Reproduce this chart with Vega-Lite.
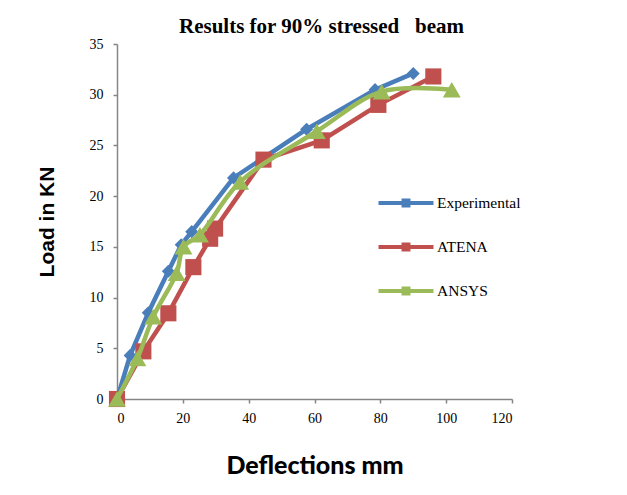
{
  "$schema": "https://vega.github.io/schema/vega-lite/v6.json",
  "width": 395,
  "height": 355,
  "autosize": {"type": "none"},
  "padding": {"left": 117, "top": 44, "right": 115, "bottom": 96},
  "background": "white",
  "config": {"view": {"stroke": null}},
  "title": {
    "text": "Results for 90% stressed\u00a0\u00a0 beam",
    "font": "Liberation Serif",
    "fontSize": 21,
    "fontWeight": "bold",
    "color": "black",
    "anchor": "middle",
    "baseline": "bottom",
    "offset": 7,
    "dx": 7,
    "dy": 28
  },
  "data": {
    "values": [
      {"series": "Experimental", "x": 0, "y": 0},
      {"series": "Experimental", "x": 4, "y": 4.3},
      {"series": "Experimental", "x": 9.5, "y": 8.5},
      {"series": "Experimental", "x": 15.6, "y": 12.6},
      {"series": "Experimental", "x": 19.5, "y": 15.2},
      {"series": "Experimental", "x": 22.7, "y": 16.5},
      {"series": "Experimental", "x": 35.4, "y": 21.8},
      {"series": "Experimental", "x": 57.6, "y": 26.6},
      {"series": "Experimental", "x": 78.4, "y": 30.5},
      {"series": "Experimental", "x": 90, "y": 32.1},
      {"series": "ATENA", "x": 0, "y": 0},
      {"series": "ATENA", "x": 8, "y": 4.7},
      {"series": "ATENA", "x": 15.6, "y": 8.45},
      {"series": "ATENA", "x": 23.2, "y": 13},
      {"series": "ATENA", "x": 28.3, "y": 15.8},
      {"series": "ATENA", "x": 29.8, "y": 16.8},
      {"series": "ATENA", "x": 44.5, "y": 23.6},
      {"series": "ATENA", "x": 62.2, "y": 25.5},
      {"series": "ATENA", "x": 79.4, "y": 29},
      {"series": "ATENA", "x": 96.1, "y": 31.8},
      {"series": "ANSYS", "x": 0, "y": 0},
      {"series": "ANSYS", "x": 6.2, "y": 4.0},
      {"series": "ANSYS", "x": 11, "y": 8.1},
      {"series": "ANSYS", "x": 18.1, "y": 12.4},
      {"series": "ANSYS", "x": 20.2, "y": 15},
      {"series": "ANSYS", "x": 25.2, "y": 16.2},
      {"series": "ANSYS", "x": 37.4, "y": 21.4},
      {"series": "ANSYS", "x": 60.7, "y": 26.4},
      {"series": "ANSYS", "x": 80.4, "y": 30.3},
      {"series": "ANSYS", "x": 101.7, "y": 30.5}
    ]
  },
  "encoding": {
    "x": {
      "field": "x", "type": "quantitative",
      "scale": {"domain": [0, 120], "nice": false, "zero": false},
      "axis": {
        "values": [0, 20, 40, 60, 80, 100, 120],
        "grid": false,
        "domainColor": "#868686", "domainWidth": 1.5,
        "tickColor": "#868686", "tickWidth": 1.5, "tickSize": 4,
        "labelFont": "Liberation Serif", "labelFontSize": 14, "labelColor": "black",
        "labelPadding": 8,
        "title": "Deflections mm",
        "titleFont": "Lato", "titleFontSize": 25, "titleFontWeight": 900, "titleColor": "black",
        "titlePadding": 28
      }
    },
    "y": {
      "field": "y", "type": "quantitative",
      "scale": {"domain": [0, 35], "nice": false, "zero": false},
      "axis": {
        "values": [0, 5, 10, 15, 20, 25, 30, 35],
        "grid": false,
        "domainColor": "#868686", "domainWidth": 1.5,
        "tickColor": "#868686", "tickWidth": 1.5, "tickSize": 4,
        "labelFont": "Liberation Serif", "labelFontSize": 14, "labelColor": "black",
        "labelPadding": 10,
        "title": "Load in KN",
        "titleFont": "Liberation Sans", "titleFontSize": 21, "titleFontWeight": "bold", "titleColor": "black",
        "titlePadding": 32
      }
    }
  },
  "layer": [
    {
      "transform": [{"filter": "datum.series === 'Experimental'"}],
      "mark": {"type": "line", "strokeWidth": 4.5},
      "encoding": {
        "color": {
          "field": "series", "type": "nominal",
          "scale": {"domain": ["Experimental", "ATENA", "ANSYS"], "range": ["#4A7EBB", "#C0504D", "#9BBB59"]},
          "legend": {
            "title": null,
            "orient": "none",
            "legendX": 273,
            "legendY": 143,
            "symbolType": "M-2,0H2M-0.18,-0.18H0.18V0.18H-0.18Z",
            "symbolSize": 756,
            "symbolStrokeWidth": 4,
            "labelFont": "Liberation Serif",
            "labelFontSize": 15.5,
            "labelColor": "black",
            "labelOffset": 15,
            "rowPadding": 17,
            "encode": {"symbols": {"update": {"fill": {"scale": "color", "field": "value"}}}}
          }
        }
      }
    },
    {
      "transform": [{"filter": "datum.series === 'Experimental'"}],
      "mark": {"type": "point", "shape": "diamond", "filled": true, "opacity": 1, "size": 170, "color": "#4A7EBB"}
    },
    {
      "transform": [{"filter": "datum.series === 'ATENA'"}],
      "mark": {"type": "line", "strokeWidth": 4.5},
      "encoding": {"color": {"field": "series", "type": "nominal"}}
    },
    {
      "transform": [{"filter": "datum.series === 'ATENA'"}],
      "mark": {"type": "point", "shape": "square", "filled": true, "opacity": 1, "size": 260, "color": "#C0504D"}
    },
    {
      "transform": [{"filter": "datum.series === 'ANSYS'"}],
      "mark": {"type": "line", "strokeWidth": 4.5, "interpolate": "catmull-rom"},
      "encoding": {"color": {"field": "series", "type": "nominal"}}
    },
    {
      "transform": [{"filter": "datum.series === 'ANSYS'"}],
      "mark": {"type": "point", "shape": "triangle-up", "filled": true, "opacity": 1, "size": 320, "color": "#9BBB59"}
    }
  ]
}
